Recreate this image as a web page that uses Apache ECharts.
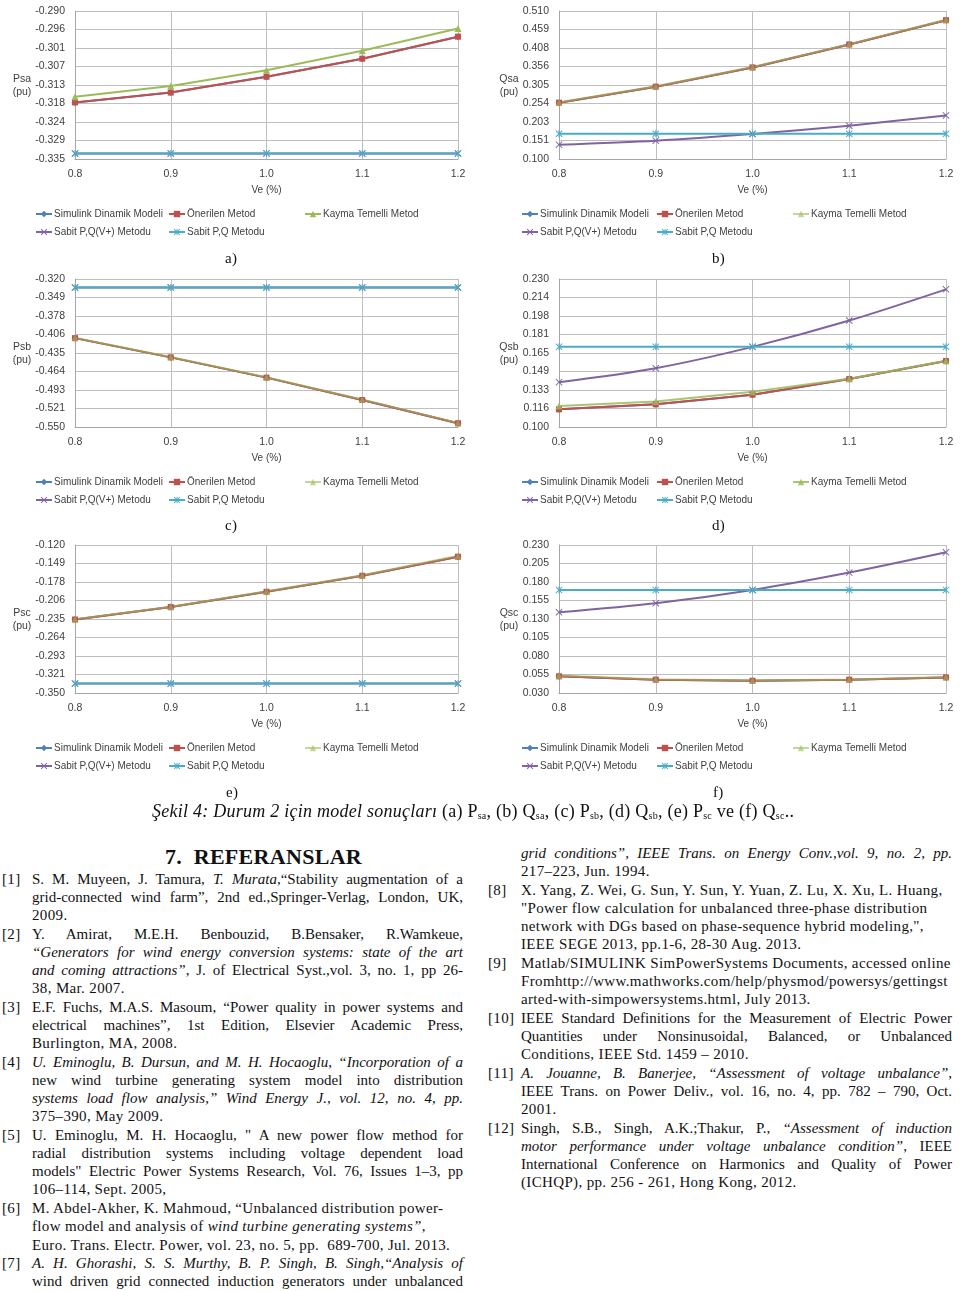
<!DOCTYPE html>
<html>
<head>
<meta charset="utf-8">
<script src="https://cdn.jsdelivr.net/npm/echarts@6.0.0/dist/echarts.min.js"></script>
<style>
  html, body { margin: 0; padding: 0; background: #fff; }
  #page { position: relative; width: 960px; height: 1291px; overflow: hidden; }
  .chart { position: absolute; height: 262px; }
  .txt { position: absolute; font-family: "Liberation Serif", "Times New Roman", serif; font-size: 15px; line-height: 18px; color: #111; white-space: nowrap; letter-spacing: 0.35px; }
  .just { text-align: justify; text-align-last: justify; letter-spacing: 0; }
  .sub { font-size: 10px; vertical-align: -2px; }
</style>
</head>
<body>
<div id="page">
  <div class="chart" id="chartA" style="left:0;top:0;width:480px"></div>
  <div class="chart" id="chartB" style="left:484px;top:0;width:476px"></div>
  <div class="chart" id="chartC" style="left:0;top:268px;width:480px"></div>
  <div class="chart" id="chartD" style="left:484px;top:268px;width:476px"></div>
  <div class="chart" id="chartE" style="left:0;top:534px;width:480px"></div>
  <div class="chart" id="chartF" style="left:484px;top:534px;width:476px"></div>
</div>
<script>
// x ekseni
var veLabels = ['0.8', '0.9', '1.0', '1.1', '1.2'];
var seriesNames = ['Simulink Dinamik Modeli', 'Önerilen Metod', 'Kayma Temelli Metod', 'Sabit P,Q(V+) Metodu', 'Sabit P,Q Metodu'];

// (a) Psa
var psaTicks = ['-0.335', '-0.329', '-0.324', '-0.318', '-0.313', '-0.307', '-0.301', '-0.296', '-0.290'];
var psaSimulink = [-0.3178, -0.3148, -0.3100, -0.3045, -0.2978];
var psaOnerilen = [-0.3178, -0.3148, -0.3100, -0.3045, -0.2978];
var psaKayma = [-0.3161, -0.3128, -0.3080, -0.3021, -0.2953];
var psaSabitV = [-0.3333, -0.3333, -0.3333, -0.3333, -0.3333];
var psaSabit = [-0.3333, -0.3333, -0.3333, -0.3333, -0.3333];

// (b) Qsa
var qsaTicks = ['0.100', '0.151', '0.203', '0.254', '0.305', '0.356', '0.408', '0.459', '0.510'];
var qsaSimulink = [0.2560, 0.3003, 0.3537, 0.4173, 0.4845];
var qsaOnerilen = [0.2560, 0.3003, 0.3537, 0.4173, 0.4845];
var qsaKayma = [0.2570, 0.3013, 0.3547, 0.4183, 0.4855];
var qsaSabitV = [0.1397, 0.1508, 0.1692, 0.1923, 0.2208];
var qsaSabit = [0.1701, 0.1701, 0.1701, 0.1701, 0.1701];

// (c) Psb
var psbTicks = ['-0.550', '-0.521', '-0.493', '-0.464', '-0.435', '-0.406', '-0.378', '-0.349', '-0.320'];
var psbSimulink = [-0.4119, -0.4418, -0.4733, -0.5080, -0.5442];
var psbOnerilen = [-0.4119, -0.4418, -0.4733, -0.5080, -0.5442];
var psbKayma = [-0.4112, -0.4412, -0.4727, -0.5074, -0.5436];
var psbSabitV = [-0.3331, -0.3331, -0.3331, -0.3331, -0.3331];
var psbSabit = [-0.3331, -0.3331, -0.3331, -0.3331, -0.3331];

// (d) Qsb
var qsbTicks = ['0.100', '0.116', '0.133', '0.149', '0.165', '0.181', '0.198', '0.214', '0.230'];
var qsbSimulink = [0.1155, 0.1199, 0.1284, 0.1421, 0.1579];
var qsbOnerilen = [0.1155, 0.1199, 0.1284, 0.1421, 0.1579];
var qsbKayma = [0.1184, 0.1225, 0.1310, 0.1424, 0.1582];
var qsbSabitV = [0.1394, 0.1517, 0.1704, 0.1935, 0.2209];
var qsbSabit = [0.1704, 0.1704, 0.1704, 0.1704, 0.1704];

// (e) Psc
var pscTicks = ['-0.350', '-0.321', '-0.293', '-0.264', '-0.235', '-0.206', '-0.178', '-0.149', '-0.120'];
var pscSimulink = [-0.2358, -0.2165, -0.1927, -0.1678, -0.1382];
var pscOnerilen = [-0.2358, -0.2165, -0.1927, -0.1678, -0.1382];
var pscKayma = [-0.2352, -0.2158, -0.1920, -0.1670, -0.1366];
var pscSabitV = [-0.3354, -0.3354, -0.3354, -0.3354, -0.3354];
var pscSabit = [-0.3354, -0.3354, -0.3354, -0.3354, -0.3354];

// (f) Qsc
var qscTicks = ['0.030', '0.055', '0.080', '0.105', '0.130', '0.155', '0.180', '0.205', '0.230'];
var qscSimulink = [0.0525, 0.0480, 0.0466, 0.0480, 0.0511];
var qscOnerilen = [0.0525, 0.0480, 0.0466, 0.0480, 0.0511];
var qscKayma = [0.0538, 0.0485, 0.0470, 0.0484, 0.0515];
var qscSabitV = [0.1392, 0.1514, 0.1693, 0.1927, 0.2201];
var qscSabit = [0.1693, 0.1693, 0.1693, 0.1693, 0.1693];

var colors = ['#4f81bd', '#c0504d', '#9bbb59', '#8064a2', '#4bacc6'];
var xPath = 'path://M0,1L1,0L5,4L9,0L10,1L6,5L10,9L9,10L5,6L1,10L0,9L4,5Z';
var starPath = 'path://M0,1L1,0L5,4L9,0L10,1L6,5L10,9L9,10L5,6L1,10L0,9L4,5ZM4.3,0L5.7,0L5.7,10L4.3,10Z';
var symbols = ['diamond', 'rect', 'triangle', xPath, starPath];
var symbolSizes = [7, 6, 7, 7, 7];
var FONT = '"Liberation Sans", Arial, sans-serif';

function drawChart(id, yName, ticks, data, side, greenOpacity) {
  var mychart = echarts.init(document.getElementById(id));
  var min = parseFloat(ticks[0]);
  var max = parseFloat(ticks[ticks.length - 1]);
  var step = (max - min) / (ticks.length - 1);
  var right = side === 'right';
  var cols = right ? [37, 172, 308] : [35, 168, 304];
  var legendPos = [[cols[0], 209], [cols[1], 209], [cols[2], 209], [cols[0], 227], [cols[1], 227]];
  var legends = seriesNames.map(function (name, i) {
    return {
      data: [name],
      left: legendPos[i][0],
      top: legendPos[i][1],
      padding: 0,
      itemWidth: 16,
      itemHeight: 8,
      itemGap: 4,
      selectedMode: false,
      textStyle: {color: '#404040', fontSize: 10, fontFamily: FONT, padding: [0, 0, 0, -3]}
    };
  });
  var series = data.map(function (vals, i) {
    return {
      name: seriesNames[i],
      type: 'line',
      data: vals,
      smooth: i === 3 ? 0.3 : false,
      symbol: symbols[i],
      symbolSize: symbolSizes[i],
      showSymbol: true,
      color: colors[i],
      lineStyle: {width: 2, opacity: i === 2 ? greenOpacity : 1},
      itemStyle: {opacity: i === 2 ? greenOpacity : 1},
      animation: false
    };
  });
  var option = {
    animation: false,
    grid: {left: 75, width: right ? 387 : 383, top: 11, height: 148},
    legend: legends,
    xAxis: {
      type: 'category',
      data: veLabels,
      boundaryGap: false,
      name: 'Ve (%)',
      nameLocation: 'middle',
      nameGap: 26,
      nameTextStyle: {color: '#404040', fontSize: 10, fontFamily: FONT},
      axisLine: {lineStyle: {color: '#a6a6a6'}},
      axisTick: {show: false},
      axisLabel: {color: '#404040', fontSize: 10.5, fontFamily: FONT, margin: 10},
      splitLine: {show: true, lineStyle: {color: '#bfbfbf'}}
    },
    yAxis: {
      type: 'value',
      min: min,
      max: max,
      interval: step,
      axisLine: {show: true, lineStyle: {color: '#a6a6a6'}},
      axisTick: {show: false},
      axisLabel: {
        color: '#404040', fontSize: 10.5, fontFamily: FONT, margin: 10,
        formatter: function (v) {
          return ticks[Math.round((v - min) / step)];
        }
      },
      splitLine: {lineStyle: {color: '#bfbfbf'}}
    },
    graphic: [{
      type: 'text',
      x: right ? 25 : 22,
      y: 86,
      style: {text: yName + '\n(pu)', fill: '#404040', font: '10.5px ' + FONT, align: 'center', verticalAlign: 'middle', lineHeight: 13}
    }],
    series: series
  };
  mychart.setOption(option);
}

drawChart('chartA', 'Psa', psaTicks, [psaSimulink, psaOnerilen, psaKayma, psaSabitV, psaSabit], 'left', 1);
drawChart('chartB', 'Qsa', qsaTicks, [qsaSimulink, qsaOnerilen, qsaKayma, qsaSabitV, qsaSabit], 'right', 0.6);
drawChart('chartC', 'Psb', psbTicks, [psbSimulink, psbOnerilen, psbKayma, psbSabitV, psbSabit], 'left', 0.6);
drawChart('chartD', 'Qsb', qsbTicks, [qsbSimulink, qsbOnerilen, qsbKayma, qsbSabitV, qsbSabit], 'right', 0.85);
drawChart('chartE', 'Psc', pscTicks, [pscSimulink, pscOnerilen, pscKayma, pscSabitV, pscSabit], 'left', 0.6);
drawChart('chartF', 'Qsc', qscTicks, [qscSimulink, qscOnerilen, qscKayma, qscSabitV, qscSabit], 'right', 0.6);

// metinler: [x, orta y, genislik, html, iki yana yasla]
var texts = [
  [225, 258, 0, 'a)', false], [712, 258, 0, 'b)', false],
  [225, 525, 0, 'c)', false], [712, 525, 0, 'd)', false],
  [226, 792, 0, 'e)', false], [713, 792, 0, 'f)', false],
  // sol sutun
  [2, 879, 0, '[1]', false],
  [32, 879, 431, 'S. M. Muyeen, J. Tamura, <i>T. Murata,</i>“Stability augmentation of a', true],
  [32, 897, 431, 'grid-connected wind farm”, 2nd ed.,Springer-Verlag, London, UK,', true],
  [32, 915, 0, '2009.', false],
  [2, 934, 0, '[2]', false],
  [32, 934, 431, 'Y. Amirat, M.E.H. Benbouzid, B.Bensaker, R.Wamkeue,', true],
  [32, 952, 431, '<i>“Generators for wind energy conversion systems: state of the art</i>', true],
  [32, 970, 431, '<i>and coming attractions”</i>, J. of Electrical Syst.,vol. 3, no. 1, pp 26-', true],
  [32, 988, 0, '38, Mar. 2007.', false],
  [2, 1007, 0, '[3]', false],
  [32, 1007, 431, 'E.F. Fuchs, M.A.S. Masoum, “Power quality in power systems and', true],
  [32, 1025, 431, 'electrical machines”, 1st Edition, Elsevier Academic Press,', true],
  [32, 1043, 0, 'Burlington, MA, 2008.', false],
  [2, 1062, 0, '[4]', false],
  [32, 1062, 431, '<i>U. Eminoglu, B. Dursun, and M. H. Hocaoglu, “Incorporation of a</i>', true],
  [32, 1080, 431, 'new wind turbine generating system model into distribution', true],
  [32, 1098, 431, '<i>systems load flow analysis,” Wind Energy J., vol. 12, no. 4, pp.</i>', true],
  [32, 1116, 0, '375–390, May 2009.', false],
  [2, 1135, 0, '[5]', false],
  [32, 1135, 431, 'U. Eminoglu, M. H. Hocaoglu, " A new power flow method for', true],
  [32, 1153, 431, 'radial distribution systems including voltage dependent load', true],
  [32, 1171, 431, 'models" Electric Power Systems Research, Vol. 76, Issues 1–3, pp', true],
  [32, 1189, 0, '106–114, Sept. 2005,', false],
  [2, 1208, 0, '[6]', false],
  [32, 1208, 0, 'M. Abdel-Akher, K. Mahmoud, “Unbalanced distribution power-', false],
  [32, 1226, 0, 'flow model and analysis of <i>wind turbine generating systems”,</i>', false],
  [32, 1245, 0, 'Euro. Trans. Electr. Power, vol. 23, no. 5, pp.&nbsp; 689-700, Jul. 2013.', false],
  [2, 1263, 0, '[7]', false],
  [32, 1263, 431, '<i>A. H. Ghorashi, S. S. Murthy, B. P. Singh, B. Singh,“Analysis of</i>', true],
  [32, 1281, 431, 'wind driven grid connected induction generators under unbalanced', true],
  // sag sutun
  [521, 853, 431, '<i>grid conditions”, IEEE Trans. on Energy Conv.,vol. 9, no. 2, pp.</i>', true],
  [521, 871, 0, '217–223, Jun. 1994.', false],
  [488, 890, 0, '[8]', false],
  [521, 890, 0, 'X. Yang, Z. Wei, G. Sun, Y. Sun, Y. Yuan, Z. Lu, X. Xu, L. Huang,', false],
  [521, 908, 0, '"Power flow calculation for unbalanced three-phase distribution', false],
  [521, 926, 0, 'network with DGs based on phase-sequence hybrid modeling,",', false],
  [521, 944, 0, 'IEEE SEGE 2013, pp.1-6, 28-30 Aug. 2013.', false],
  [488, 963, 0, '[9]', false],
  [521, 963, 0, 'Matlab/SIMULINK SimPowerSystems Documents, accessed online', false],
  [521, 981, 0, 'Fromhttp://www.mathworks.com/help/physmod/powersys/gettingst', false],
  [521, 999, 0, 'arted-with-simpowersystems.html, July 2013.', false],
  [488, 1018, 0, '[10]', false],
  [521, 1018, 431, 'IEEE Standard Definitions for the Measurement of Electric Power', true],
  [521, 1036, 431, 'Quantities under Nonsinusoidal, Balanced, or Unbalanced', true],
  [521, 1054, 0, 'Conditions, IEEE Std. 1459 – 2010.', false],
  [488, 1073, 0, '[11]', false],
  [521, 1073, 431, '<i>A. Jouanne, B. Banerjee, “Assessment of voltage unbalance”,</i>', true],
  [521, 1091, 431, 'IEEE Trans. on Power Deliv., vol. 16, no. 4, pp. 782 – 790, Oct.', true],
  [521, 1109, 0, '2001.', false],
  [488, 1128, 0, '[12]', false],
  [521, 1128, 431, 'Singh, S.B., Singh, A.K.;Thakur, P., <i>“Assessment of induction</i>', true],
  [521, 1146, 431, '<i>motor performance under voltage unbalance condition”,</i> IEEE', true],
  [521, 1164, 431, 'International Conference on Harmonics and Quality of Power', true],
  [521, 1182, 0, '(ICHQP), pp. 256 - 261, Hong Kong, 2012.', false]
];
var page = document.getElementById('page');
texts.forEach(function (t) {
  var d = document.createElement('div');
  d.className = 'txt' + (t[4] ? ' just' : '');
  d.style.left = t[0] + 'px';
  d.style.top = (t[1] - 9) + 'px';
  if (t[2]) d.style.width = t[2] + 'px';
  d.innerHTML = t[3];
  page.appendChild(d);
});

// baslik ve sekil yazisi
var title = document.createElement('div');
title.className = 'txt';
title.style.cssText = 'left:165px;top:844px;font-size:22px;line-height:26px;font-weight:bold;letter-spacing:0.3px;';
title.innerHTML = '7.&nbsp; REFERANSLAR';
page.appendChild(title);

var caption = document.createElement('div');
caption.className = 'txt';
caption.style.cssText = 'left:152px;top:800px;font-size:18px;line-height:22px;letter-spacing:0.25px;';
caption.innerHTML = '<i>Şekil 4: Durum 2 için model sonuçları</i> (a) P<span class="sub">sa</span>, (b) Q<span class="sub">sa</span>, (c) P<span class="sub">sb</span>, (d) Q<span class="sub">sb</span>, (e) P<span class="sub">sc</span> ve (f) Q<span class="sub">sc</span>..';
page.appendChild(caption);
</script>
</body>
</html>
